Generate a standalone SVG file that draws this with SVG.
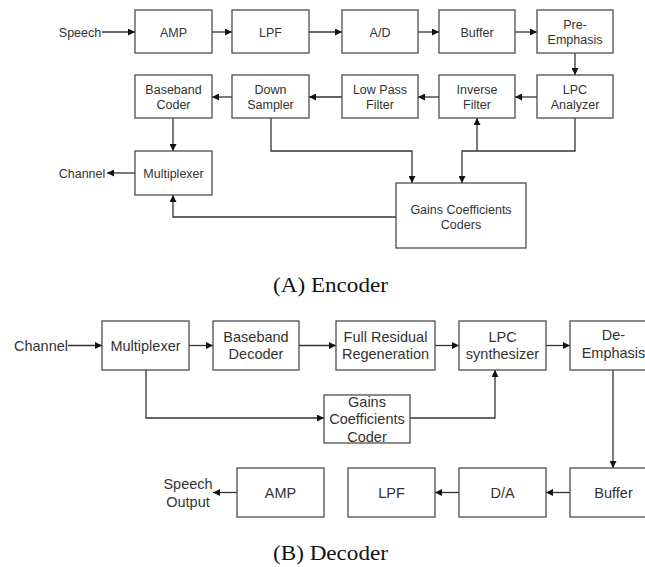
<svg xmlns="http://www.w3.org/2000/svg" width="645" height="567" viewBox="0 0 645 567">
<style>
.box{fill:#fff;stroke:#4d4d4d;stroke-width:1.3}
.e{font-family:"Liberation Sans",Arial,sans-serif;font-size:12.5px;fill:#333;text-anchor:middle}
.d{font-family:"Liberation Sans",Arial,sans-serif;font-size:14.5px;fill:#333;text-anchor:middle}
.cap{font-family:"Liberation Serif","Times New Roman",serif;font-size:20px;fill:#111}
.ln{fill:none;stroke:#333;stroke-width:1.3}
</style>
<defs>
<marker id="ah" viewBox="0 0 10 10" refX="10" refY="5" markerWidth="7" markerHeight="7" markerUnits="userSpaceOnUse" orient="auto">
<path d="M0,0 L10,5 L0,10 Z" fill="#111"/>
</marker>
</defs>
<rect width="645" height="567" fill="#fff"/>

<g id="connectors" class="ln" marker-end="url(#ah)">
<!-- encoder -->
<path d="M102,32 H135"/>
<path d="M212,32 H232"/>
<path d="M309,32 H342"/>
<path d="M418,32 H439"/>
<path d="M515,32 H537"/>
<path d="M575,53 V75"/>
<path d="M537,97 H515"/>
<path d="M439,97 H418"/>
<path d="M342,97 H309"/>
<path d="M232,97 H212"/>
<path d="M173,118 V151"/>
<path d="M135,173 H107"/>
<path d="M271,118 V151 H412 V183"/>
<path d="M575,118 V151 H462 V183"/>
<path d="M477,151 V118"/>
<path d="M396,217 H173 V195"/>
<!-- decoder -->
<path d="M68,345.5 H102"/>
<path d="M189,345.5 H213"/>
<path d="M299,345.5 H336"/>
<path d="M435,345.5 H459"/>
<path d="M546,345.5 H570"/>
<path d="M146,370 V418 H324"/>
<path d="M410,418 H495 V370"/>
<path d="M613,370 V468"/>
<path d="M570,492.5 H546"/>
<path d="M459,492.5 H435"/>
<path d="M237,492.5 H213"/>
</g>

<!-- Encoder -->
<text class="e" x="80" y="36.5">Speech</text>
<g id="enc-amp"><rect class="box" x="135" y="10" width="77" height="43"/><text class="e" x="173.5" y="36.5">AMP</text></g>
<g id="enc-lpf"><rect class="box" x="232" y="10" width="77" height="43"/><text class="e" x="270.5" y="36.5">LPF</text></g>
<g id="enc-ad"><rect class="box" x="342" y="10" width="76" height="43"/><text class="e" x="380" y="36.5">A/D</text></g>
<g id="enc-buffer"><rect class="box" x="439" y="10" width="76" height="43"/><text class="e" x="477" y="36.5">Buffer</text></g>
<g id="enc-preemph"><rect class="box" x="537" y="10" width="76" height="43"/><text class="e" x="575" y="28.5">Pre-</text><text class="e" x="575" y="43.5">Emphasis</text></g>
<g id="enc-baseband"><rect class="box" x="135" y="75" width="77" height="43"/><text class="e" x="173.5" y="93.5">Baseband</text><text class="e" x="173.5" y="108.5">Coder</text></g>
<g id="enc-down"><rect class="box" x="232" y="75" width="77" height="43"/><text class="e" x="270.5" y="93.5">Down</text><text class="e" x="270.5" y="108.5">Sampler</text></g>
<g id="enc-lowpass"><rect class="box" x="342" y="75" width="76" height="43"/><text class="e" x="380" y="93.5">Low Pass</text><text class="e" x="380" y="108.5">Filter</text></g>
<g id="enc-inverse"><rect class="box" x="439" y="75" width="76" height="43"/><text class="e" x="477" y="93.5">Inverse</text><text class="e" x="477" y="108.5">Filter</text></g>
<g id="enc-lpc"><rect class="box" x="537" y="75" width="76" height="43"/><text class="e" x="575" y="93.5">LPC</text><text class="e" x="575" y="108.5">Analyzer</text></g>
<g id="enc-mux"><rect class="box" x="135" y="151" width="77" height="44"/><text class="e" x="173.5" y="177.5">Multiplexer</text></g>
<text class="e" x="82" y="177.5">Channel</text>
<g id="enc-gains"><rect class="box" x="396" y="183" width="130" height="65"/><text class="e" x="461" y="213.5">Gains Coefficients</text><text class="e" x="461" y="228.5">Coders</text></g>
<text class="cap" x="273" y="292" textLength="115" lengthAdjust="spacingAndGlyphs">(A) Encoder</text>

<!-- Decoder -->
<text class="d" x="41" y="351">Channel</text>
<g id="dec-mux"><rect class="box" x="102" y="321" width="87" height="49"/><text class="d" x="145.5" y="351">Multiplexer</text></g>
<g id="dec-baseband"><rect class="box" x="213" y="321" width="86" height="49"/><text class="d" x="256" y="342">Baseband</text><text class="d" x="256" y="359">Decoder</text></g>
<g id="dec-full"><rect class="box" x="336" y="321" width="99" height="49"/><text class="d" x="385.5" y="342">Full Residual</text><text class="d" x="385.5" y="359">Regeneration</text></g>
<g id="dec-lpc"><rect class="box" x="459" y="321" width="87" height="49"/><text class="d" x="502.5" y="342">LPC</text><text class="d" x="502.5" y="359">synthesizer</text></g>
<g id="dec-deemph"><rect class="box" x="570" y="321" width="87" height="49"/><text class="d" x="613.5" y="340">De-</text><text class="d" x="613.5" y="358">Emphasis</text></g>
<g id="dec-gains"><rect class="box" x="324" y="395" width="86" height="48"/><text class="d" x="367" y="407">Gains</text><text class="d" x="367" y="424">Coefficients</text><text class="d" x="367" y="442">Coder</text></g>
<g id="dec-buffer"><rect class="box" x="570" y="468" width="87" height="49"/><text class="d" x="613.5" y="497.5">Buffer</text></g>
<g id="dec-da"><rect class="box" x="459" y="468" width="87" height="49"/><text class="d" x="502.5" y="497.5">D/A</text></g>
<g id="dec-lpf"><rect class="box" x="348" y="468" width="87" height="49"/><text class="d" x="391.5" y="497.5">LPF</text></g>
<g id="dec-amp"><rect class="box" x="237" y="468" width="87" height="49"/><text class="d" x="280.5" y="497.5">AMP</text></g>
<text class="d" x="188" y="489">Speech</text>
<text class="d" x="188" y="507">Output</text>
<text class="cap" x="273" y="560" textLength="115" lengthAdjust="spacingAndGlyphs">(B) Decoder</text>
</svg>
